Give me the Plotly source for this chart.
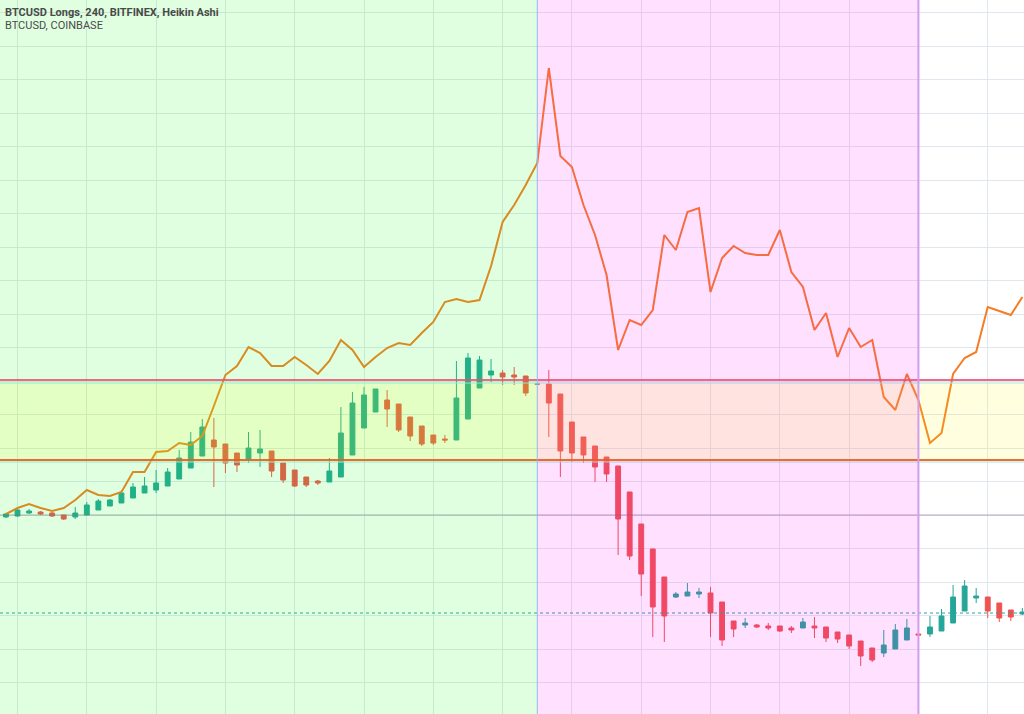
import plotly.graph_objects as go

# ---------------- data ----------------
# BTCUSD Longs, 240, BITFINEX, Heikin Ashi  (one candle per 4h bar, index 0..88)
longs_open = [24830, 24840, 24870, 24880, 24870, 24850, 24830, 24850, 24900, 24940,
              24970, 25020, 25070, 25100, 25140, 25210, 25320, 25440, 25600, 25560,
              25470, 25410, 25470, 25490, 25370, 25300, 25230, 25190, 25180, 25230,
              25450, 25720, 25880, 26000, 25960, 25830, 25740, 25650, 25610, 25600,
              25810, 26120, 26250, 26270, 26250, 26240, 26160, 26160, 26060, 25780,
              25630, 25540, 25430, 25340, 25080, 24760, 24510, 24230, 24030, 24040,
              24060, 24070, 23980, 23790, 23750, 23750, 23740, 23740, 23720, 23720,
              23740, 23730, 23680, 23650, 23590, 23520, 23470, 23510, 23600, 23660,
              23660, 23690, 23770, 23890, 24020, 24030, 23970, 23900, 23860]
longs_high = [24870, 24910, 24910, 24890, 24880, 24850, 24930, 24980, 25010, 25010,
              25100, 25170, 25230, 25300, 25320, 25500, 25680, 25810, 25820, 25560,
              25470, 25680, 25700, 25490, 25370, 25300, 25230, 25200, 25420, 25930,
              26080, 26130, 26110, 26100, 25960, 25830, 25740, 25650, 25650, 26390,
              26470, 26440, 26410, 26300, 26330, 26240, 26160, 26300, 26060, 25780,
              25630, 25540, 25430, 25340, 25080, 24760, 24510, 24230, 24080, 24170,
              24120, 24130, 23980, 23790, 23820, 23760, 23770, 23740, 23740, 23820,
              23830, 23730, 23680, 23650, 23590, 23520, 23700, 23760, 23810, 23660,
              23840, 23910, 24150, 24200, 24120, 24030, 23970, 23900, 23920]
longs_low = [24820, 24830, 24860, 24850, 24830, 24800, 24810, 24850, 24900, 24940,
             24970, 25020, 25070, 25070, 25140, 25210, 25320, 25440, 25130, 25270,
             25280, 25370, 25330, 25230, 25170, 25130, 25130, 25150, 25180, 25230,
             25450, 25720, 25880, 25730, 25680, 25590, 25540, 25550, 25570, 25600,
             25810, 26120, 26180, 26150, 26150, 26040, 26160, 25630, 25230, 25380,
             25370, 25180, 25180, 24450, 24400, 24040, 23630, 23580, 24020, 24040,
             24020, 23630, 23540, 23630, 23720, 23720, 23700, 23680, 23670, 23720,
             23620, 23580, 23570, 23510, 23340, 23380, 23430, 23510, 23600, 23650,
             23630, 23690, 23770, 23890, 23970, 23820, 23780, 23790, 23850]
longs_close = [24860, 24900, 24890, 24860, 24840, 24810, 24870, 24950, 24990, 25000,
               25070, 25130, 25140, 25170, 25280, 25420, 25580, 25730, 25530, 25370,
               25350, 25520, 25510, 25290, 25200, 25140, 25150, 25170, 25290, 25670,
               25970, 26050, 26110, 25910, 25700, 25640, 25560, 25570, 25600, 26020,
               26420, 26400, 26290, 26230, 26230, 26070, 26160, 25970, 25490, 25470,
               25450, 25330, 25260, 24810, 24440, 24260, 23930, 23840, 24060, 24080,
               24080, 23870, 23600, 23710, 23770, 23730, 23720, 23690, 23700, 23780,
               23720, 23620, 23610, 23540, 23440, 23400, 23550, 23700, 23720, 23650,
               23730, 23840, 24030, 24140, 24040, 23890, 23820, 23830, 23880]

# BTCUSD, COINBASE close (overlay line, own scale)
btc_close = [7430, 7460, 7480, 7460, 7445, 7460, 7500, 7550, 7525, 7520,
             7540, 7640, 7640, 7740, 7745, 7785, 7775, 7820, 7970, 8125,
             8170, 8265, 8235, 8170, 8170, 8215, 8175, 8130, 8195, 8300,
             8250, 8165, 8215, 8260, 8285, 8275, 8335, 8390, 8490, 8505,
             8490, 8500, 8670, 8890, 8975, 9075, 9185, 9660, 9220, 9165,
             8975, 8825, 8625, 8250, 8400, 8375, 8450, 8825, 8750, 8940,
             8960, 8540, 8710, 8770, 8735, 8725, 8725, 8850, 8640, 8565,
             8350, 8435, 8215, 8360, 8265, 8300, 8015, 7950, 8130, 8000,
             7785, 7835, 8130, 8210, 8240, 8465, 8445, 8425, 8515]

bars = list(range(len(longs_close)))

# drawn levels / zones (longs scale)
zone_green_end = 46      # bar index
zone_pink_end = 79       # bar index
level_top = 26200
band_top = 26170
band_bottom = 25380
level_bottom = 25400
level_mid = 24850
last_price = 23870

title1 = "BTCUSD Longs, 240, BITFINEX, Heikin Ashi"
title2 = "BTCUSD, COINBASE"

# ---------------- figure ----------------
UP = "#26a69a"
DOWN = "#ef5350"
FLAT = "#787b86"

moving = [i for i in bars if longs_open[i] != longs_close[i]]
flat = [i for i in bars if longs_open[i] == longs_close[i]]

def pick(arr, idx):
    return [arr[i] for i in idx]

fig = go.Figure()
fig.add_trace(go.Candlestick(
    x=moving, open=pick(longs_open, moving), high=pick(longs_high, moving),
    low=pick(longs_low, moving), close=pick(longs_close, moving),
    increasing=dict(line=dict(color=UP, width=1), fillcolor=UP),
    decreasing=dict(line=dict(color=DOWN, width=1), fillcolor=DOWN),
    whiskerwidth=0, showlegend=False, yaxis="y",
))
fig.add_trace(go.Candlestick(
    x=flat, open=pick(longs_open, flat), high=pick(longs_high, flat),
    low=pick(longs_low, flat), close=pick(longs_close, flat),
    increasing=dict(line=dict(color=FLAT, width=1), fillcolor=FLAT),
    decreasing=dict(line=dict(color=FLAT, width=1), fillcolor=FLAT),
    whiskerwidth=0, showlegend=False, yaxis="y",
))
fig.add_trace(go.Scatter(
    x=bars, y=btc_close, mode="lines", yaxis="y2",
    line=dict(color="rgb(246,124,38)", width=2), showlegend=False,
))

X0, X1 = -0.515, 88.14
shapes = []
# plain level lines (tinted by the zones above them)
shapes.append(dict(type="line", xref="paper", x0=0, x1=1, yref="y", y0=level_mid, y1=level_mid,
                   line=dict(color="rgba(130,100,140,0.55)", width=1), layer="above"))
shapes.append(dict(type="line", xref="paper", x0=0, x1=1, yref="y", y0=last_price, y1=last_price,
                   line=dict(color=UP, width=1, dash="dot"), layer="above"))
shapes.append(dict(type="line", xref="paper", x0=0, x1=1, yref="y", y0=band_top, y1=band_top,
                   line=dict(color="#9ee9ee", width=1), layer="above"))
shapes.append(dict(type="line", xref="paper", x0=0, x1=1, yref="y", y0=band_bottom, y1=band_bottom,
                   line=dict(color="#9ee9ee", width=1), layer="above"))
# zones (semi-transparent, drawn over the marks)
shapes.append(dict(type="rect", xref="x", x0=X0, x1=zone_green_end, yref="paper", y0=0, y1=1,
                   fillcolor="rgba(0,255,0,0.12)", line=dict(width=0), layer="above"))
shapes.append(dict(type="rect", xref="x", x0=zone_green_end, x1=zone_pink_end, yref="paper", y0=0, y1=1,
                   fillcolor="rgba(255,0,255,0.12)", line=dict(width=0), layer="above"))
shapes.append(dict(type="rect", xref="paper", x0=0, x1=1, yref="y", y0=band_bottom, y1=band_top,
                   fillcolor="rgba(255,255,0,0.12)", line=dict(width=0), layer="above"))
shapes.append(dict(type="line", xref="paper", x0=0, x1=1, yref="y", y0=level_top, y1=level_top,
                   line=dict(color="rgba(238,80,110,0.85)", width=2), layer="above"))
shapes.append(dict(type="line", xref="paper", x0=0, x1=1, yref="y", y0=level_bottom, y1=level_bottom,
                   line=dict(color="rgba(236,90,40,0.9)", width=2), layer="above"))
shapes.append(dict(type="line", xref="x", x0=zone_green_end, x1=zone_green_end, yref="paper", y0=0, y1=1,
                   line=dict(color="#98b4f2", width=1), layer="above"))
shapes.append(dict(type="line", xref="x", x0=zone_pink_end, x1=zone_pink_end, yref="paper", y0=0, y1=1,
                   line=dict(color="#d49cec", width=2), layer="above"))

fig.update_layout(
    width=1024, height=714, margin=dict(l=0, r=0, t=0, b=0),
    paper_bgcolor="white", plot_bgcolor="white",
    boxgap=0.4,
    shapes=shapes,
    xaxis=dict(range=[X0, X1], showticklabels=False, zeroline=False, showline=False,
               showgrid=True, gridcolor="#e1e7ee", gridwidth=1, tick0=1, dtick=6,
               rangeslider=dict(visible=False), fixedrange=True, ticks=""),
    yaxis=dict(range=[22860, 30000], showticklabels=False, zeroline=False, showline=False,
               showgrid=True, gridcolor="#e1e7ee", gridwidth=1, tick0=29875, dtick=335, ticks=""),
    yaxis2=dict(range=[6430, 10000], overlaying="y", visible=False, showgrid=False),
    annotations=[
        dict(text="<b>" + title1 + "</b>", xref="paper", yref="paper", x=0, y=1,
             xshift=3, yshift=-4, xanchor="left", yanchor="top", showarrow=False,
             font=dict(family="Roboto", size=11, color="#4a4a4a")),
        dict(text=title2, xref="paper", yref="paper", x=0, y=1,
             xshift=3, yshift=-17, xanchor="left", yanchor="top", showarrow=False,
             font=dict(family="Roboto", size=11, color="#4a4a4a")),
    ],
)

fig.write_html("out.html")
